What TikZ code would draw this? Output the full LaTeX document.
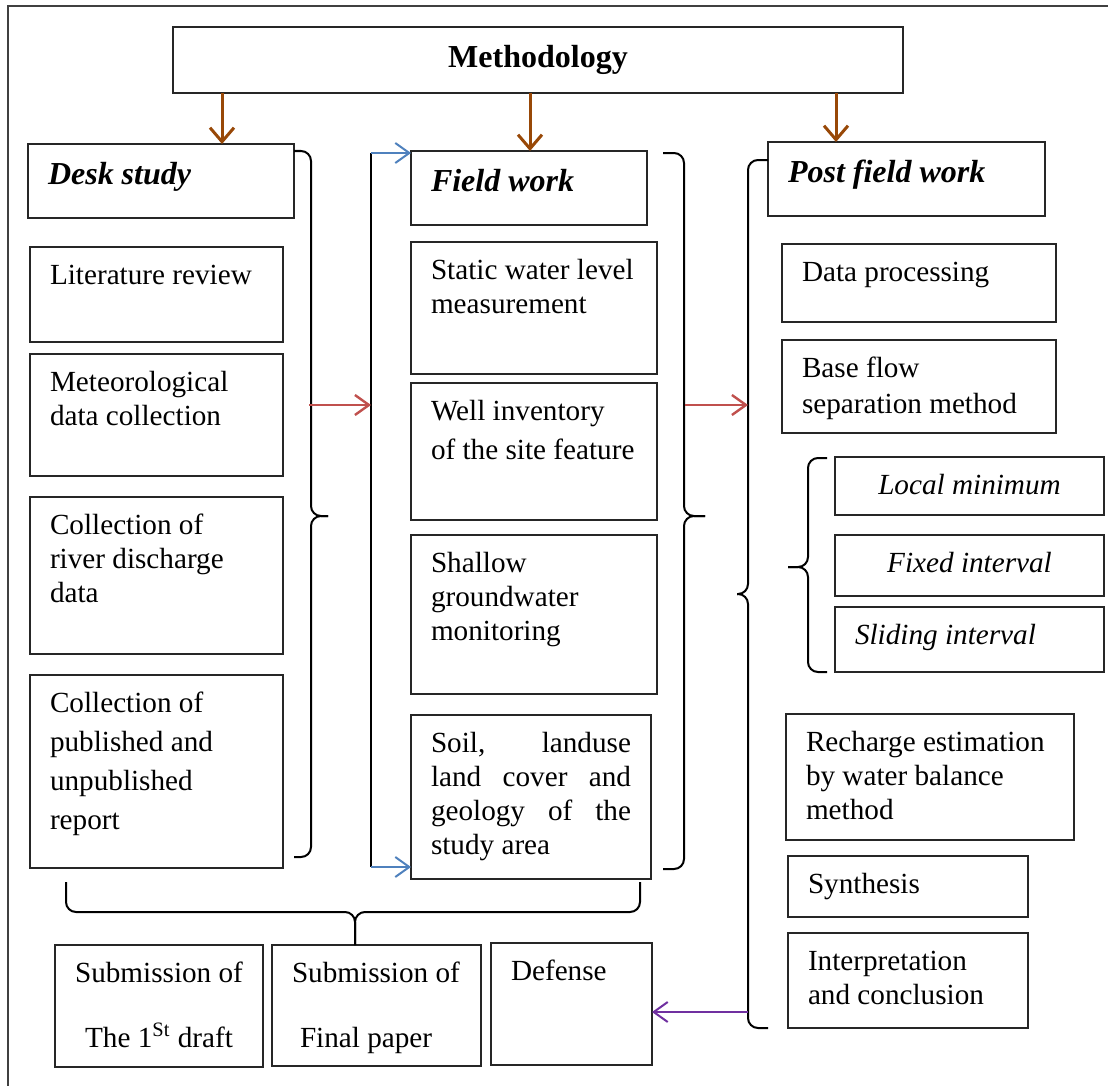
\documentclass[tikz,border=0pt]{standalone}
\usepackage{fontspec}
\setmainfont{Liberation Serif}
\usetikzlibrary{arrows.meta}

\definecolor{brw}{HTML}{984807}
\definecolor{redc}{HTML}{C0504D}
\definecolor{bluc}{HTML}{4F81BD}
\definecolor{purc}{HTML}{7030A0}

% box with its text at the top left: [style]{name}{x1}{y1}{x2}{y2}{text}
\newcommand{\tbox}[7][]{%
  \node[box,#1] (#2) at (#3,#4) {\parbox[c][\dimexpr(#6pt-#4pt)/2\relax][t]{\dimexpr(#5pt-#3pt)/2\relax}{\leftskip=10pt\rightskip=4pt\rule{0pt}{1.27em}#7}};}

\begin{document}
\begin{tikzpicture}[x=0.5pt, y=-0.5pt,
    box/.style={draw=black!85, line width=0.7pt, inner sep=0pt, outer sep=0pt, anchor=north west, font=\fontsize{14.6}{17}\selectfont},
    head/.style={font=\fontsize{16}{19}\selectfont\bfseries\itshape},
    ital/.style={font=\fontsize{14.6}{17}\selectfont\itshape},
    brk/.style={draw=black, line width=1pt, rounded corners=5pt},
    frame/.style={draw=black!75, line width=1pt},
    brwarr/.style={draw=brw, line width=1.5pt, -{Straight Barb[length=7pt,width=12pt]}},
    redarr/.style={draw=redc, line width=1.2pt, -{Straight Barb[length=7pt,width=10pt]}},
    bluarr/.style={draw=bluc, line width=1pt, -{Straight Barb[length=7pt,width=10pt]}},
    purarr/.style={draw=purc, line width=1pt, -{Straight Barb[length=7pt,width=10pt]}}]
    \useasboundingbox (0,0) rectangle (1108,1086);
    \draw[frame] (8,1086) -- (8,6) -- (1108,6);

    % title
    \tbox[font=\fontsize{16}{19}\selectfont\bfseries]{meth}{173}{27}{903}{93}{\centering Methodology}

    % desk study
    \tbox[head]{desk}{28}{144}{294}{218}{Desk study}
    \tbox{lit}{30}{247}{283}{342}{Literature review}
    \tbox{meteo}{30}{354}{283}{476}{Meteorological\\data collection}
    \tbox{river}{30}{497}{283}{654}{Collection of\\river discharge\\data}
    \tbox{report}{30}{675}{283}{868}{Collection of\\[2.5pt]published and\\[2.5pt]unpublished\\[2.5pt]report}

    % field work
    \tbox[head]{field}{411}{151}{647}{225}{Field work}
    \tbox{swl}{411}{242}{657}{374}{Static water level\\measurement}
    \tbox{well}{411}{383}{657}{520}{Well inventory\\[2.5pt]of the site feature}
    \tbox{shallow}{411}{535}{657}{694}{Shallow\\groundwater\\monitoring}
    \tbox{soil}{411}{715}{651}{879}{\rightskip=10pt Soil,\hfill landuse\\land\hfill cover\hfill and\\geology\hfill of\hfill the\\study area}

    % post field work
    \tbox[head]{post}{768}{142}{1045}{216}{Post field work}
    \tbox{dproc}{782}{244}{1056}{322}{Data processing}
    \tbox{bflow}{782}{340}{1056}{433}{Base flow\\[1pt]separation method}
    \tbox[ital]{locmin}{835}{457}{1104}{515}{\centering Local minimum}
    \tbox[ital]{fixint}{835}{535}{1104}{596}{\centering Fixed interval}
    \tbox[ital]{slint}{835}{607}{1104}{672}{Sliding interval}
    \tbox{rech}{786}{714}{1074}{840}{Recharge estimation\\by water balance\\method}
    \tbox{synth}{788}{856}{1028}{917}{Synthesis}
    \tbox{interp}{788}{933}{1028}{1028}{Interpretation\\and conclusion}

    % submission
    \tbox{sub1}{55}{945}{263}{1067}{\centering Submission of\\[15.5pt]The 1\textsuperscript{St} draft}
    \tbox{sub2}{272}{945}{481}{1066}{Submission of\\[15.5pt]\hspace*{4pt}Final paper}
    \tbox{def}{491}{943}{652}{1065}{Defense}

    % arrows from the title
    \coordinate (b1) at (222,0);
    \coordinate (b2) at (530,0);
    \coordinate (b3) at (836,0);
    \draw[brwarr] (meth.south -| b1) -- (desk.north -| b1);
    \draw[brwarr] (meth.south -| b2) -- (field.north -| b2);
    \draw[brwarr] (meth.south -| b3) -- (post.north -| b3);

    % braces
    \draw[brk] (294,151) -- (311,151) -- (311,516) -- (328,516);
    \draw[brk] (294,857) -- (311,857) -- (311,516) -- (328,516);
    \coordinate (ft) at (371,153);
    \coordinate (fb) at (371,867);
    \draw[brk] (ft) -- (fb);
    \draw[brk] (663,153) -- (684,153) -- (684,516) -- (705,516);
    \draw[brk] (663,869) -- (684,869) -- (684,516) -- (705,516);
    \coordinate (pl) at (748,160);
    \draw[brk] (768,160) -- (pl) -- (748,594) -- (737,594);
    \draw[brk] (768,1028) -- (748,1028) -- (748,594) -- (737,594);
    \draw[brk] (827,458) -- (808,458) -- (808,567) -- (788,567);
    \draw[brk] (827,672) -- (808,672) -- (808,567) -- (788,567);
    \coordinate (bt) at (355,912);
    \draw[brk] (66,882) -- (66,912) -- (bt) -- (bt |- sub2.north);
    \draw[brk] (640,882) -- (640,912) -- (bt) -- (bt |- sub2.north);

    % coloured arrows
    \draw[bluarr] (ft) -- (ft -| field.west);
    \draw[bluarr] (fb) -- (fb -| soil.west);
    \coordinate (r1) at (309,405);
    \draw[redarr] (r1) -- (r1 -| ft);
    \coordinate (r2) at (685,405);
    \draw[redarr] (r2) -- (r2 -| pl);
    \coordinate (pu) at (748,1012);
    \draw[purarr] (pu) -- (pu -| def.east);
\end{tikzpicture}
\end{document}
